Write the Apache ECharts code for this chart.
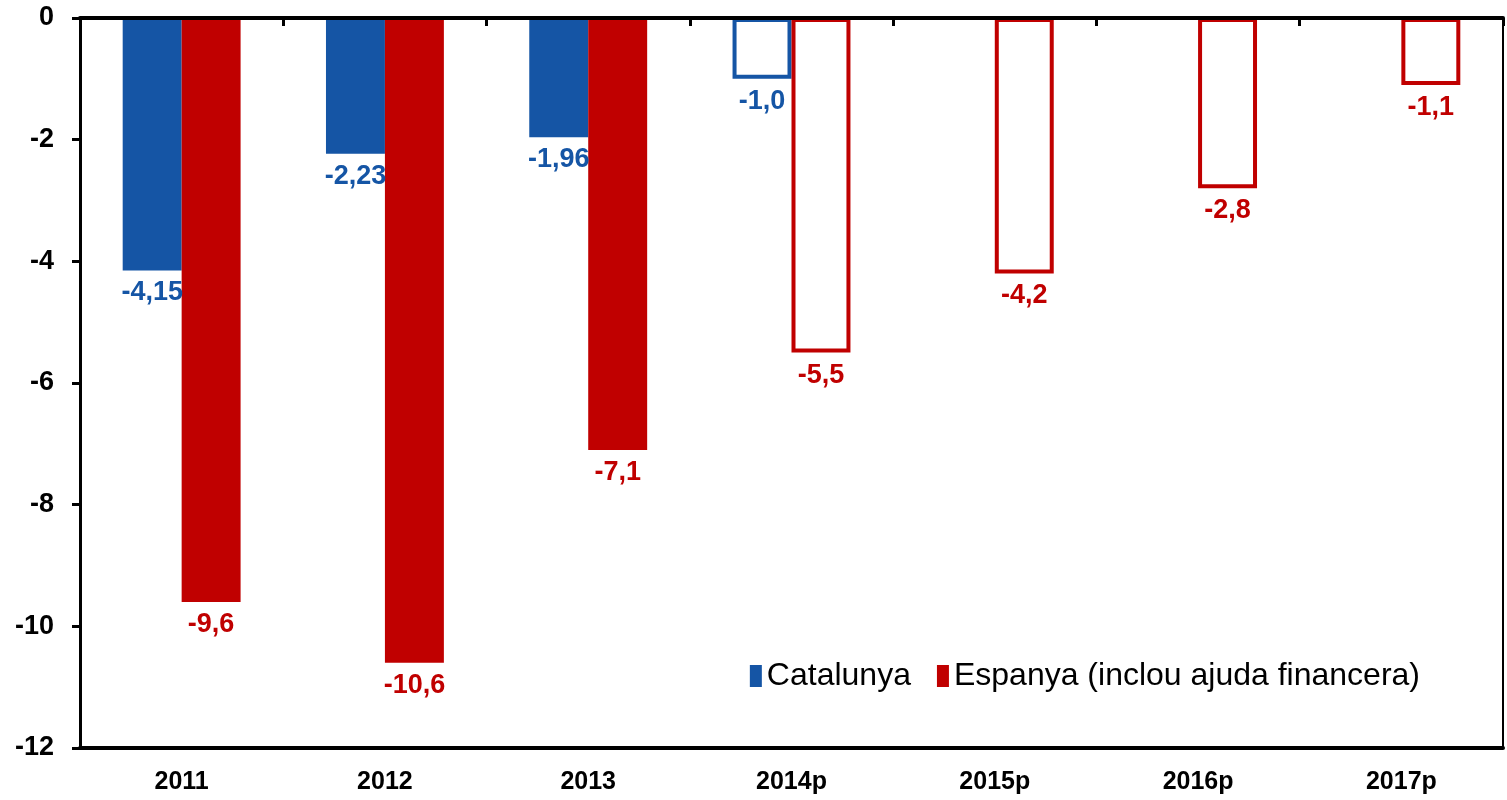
<!DOCTYPE html>
<html>
<head>
<meta charset="utf-8">
<script src="https://cdn.jsdelivr.net/npm/echarts@6/dist/echarts.min.js"></script>
<style>
* { margin: 0; padding: 0; }
body { background: #fff; }
#chart { width: 1507px; height: 800px; }
</style>
</head>
<body>
<div id="chart"></div>
<script>
// dades
var anys = ['2011', '2012', '2013', '2014p', '2015p', '2016p', '2017p'];
var catalunya = [-4.15, -2.23, -1.96, -1.0, null, null, null];
var espanya = [-9.6, -10.6, -7.1, -5.5, -4.2, -2.8, -1.1];
var yTicks = [0, -2, -4, -6, -8, -10, -12];

var blau = '#1555A5';
var vermell = '#C00000';
var font = 'Liberation Sans, Arial, sans-serif';

function fmt(v) {
  var s = String(v).replace('.', ',');
  if (s.indexOf(',') < 0) s += ',0';
  return s;
}

// les previsions (any acabat en "p") van sense farciment
function barres(valors, color) {
  return valors.map(function (v, i) {
    if (v === null) return null;
    if (anys[i].slice(-1) === 'p') {
      return { value: v, itemStyle: { color: '#fff', borderColor: color, borderWidth: 4 } };
    }
    return { value: v, itemStyle: { color: color } };
  });
}

function serie(nom, valors, color) {
  return {
    name: nom,
    type: 'bar',
    xAxisIndex: 0,
    barGap: 0,
    barCategoryGap: '42%',
    itemStyle: { color: color },
    data: barres(valors, color),
    label: {
      show: true,
      position: 'bottom',
      distance: 9,
      color: color,
      fontFamily: font,
      fontWeight: 'bold',
      fontSize: 27,
      formatter: function (p) { return fmt(p.value); }
    }
  };
}

var chart = echarts.init(document.getElementById('chart'));
chart.setOption({
  animation: false,
  textStyle: { fontFamily: font },
  grid: { left: 80, right: 4, top: 18, bottom: 52 },
  legend: {
    right: 82,
    top: 655,
    icon: 'rect',
    itemWidth: 12,
    itemHeight: 22,
    itemGap: 26,
    itemStyle: { borderWidth: 0 },
    textStyle: { fontSize: 32, color: '#000', fontFamily: font },
    data: ['Catalunya', 'Espanya (inclou ajuda financera)']
  },
  xAxis: [
    {
      type: 'category',
      data: anys,
      position: 'bottom',
      axisLine: { onZero: false, lineStyle: { color: '#000', width: 4 } },
      axisTick: { show: false },
      axisLabel: { color: '#000', fontSize: 25, fontWeight: 'bold', margin: 22, fontFamily: font }
    },
    {
      type: 'category',
      data: anys,
      position: 'top',
      z: 5,
      axisLine: { onZero: false, lineStyle: { color: '#000', width: 4 } },
      axisTick: { show: true, inside: true, length: 8, lineStyle: { color: '#000', width: 3 } },
      axisLabel: { show: false }
    }
  ],
  yAxis: [
    {
      type: 'value',
      min: yTicks[yTicks.length - 1],
      max: yTicks[0],
      interval: 2,
      z: 5,
      axisLine: { show: true, lineStyle: { color: '#000', width: 3 } },
      axisTick: { show: true, length: 8, lineStyle: { color: '#000', width: 3 } },
      splitLine: { show: false },
      axisLabel: { color: '#000', fontSize: 27, fontWeight: 'bold', margin: 26, fontFamily: font }
    },
    {
      type: 'value',
      position: 'right',
      min: yTicks[yTicks.length - 1],
      max: yTicks[0],
      interval: 2,
      axisLine: { show: true, lineStyle: { color: '#000', width: 2 } },
      axisTick: { show: false },
      axisLabel: { show: false },
      splitLine: { show: false }
    }
  ],
  series: [
    serie('Catalunya', catalunya, blau),
    serie('Espanya (inclou ajuda financera)', espanya, vermell)
  ]
});
</script>
</body>
</html>
